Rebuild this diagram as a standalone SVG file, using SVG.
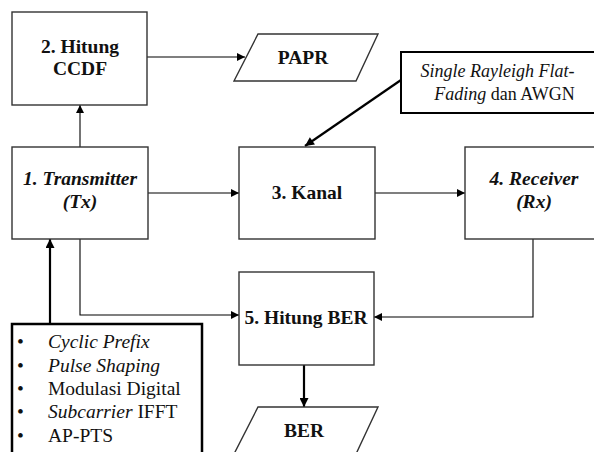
<svg xmlns="http://www.w3.org/2000/svg" width="594" height="452" viewBox="0 0 594 452">
<style>
.box{fill:#fff;stroke:#333;stroke-width:1.4}
.thickbox{fill:#fff;stroke:#000;stroke-width:2.5}
.b{font-family:"Liberation Serif","Times New Roman",serif;font-weight:bold;font-size:19.5px;fill:#111;text-anchor:middle}
.bi{font-family:"Liberation Serif","Times New Roman",serif;font-weight:bold;font-style:italic;font-size:19.5px;fill:#111;text-anchor:middle}
.r{font-family:"Liberation Serif","Times New Roman",serif;font-size:19.5px;fill:#111}
.s{font-family:"Liberation Serif","Times New Roman",serif;font-size:18px;fill:#111;text-anchor:middle}
.i{font-style:italic}
.c{fill:none;stroke:#000;stroke-width:1.1}
.ct{fill:none;stroke:#000;stroke-width:2.2}
</style>
<defs>
<marker id="ah" viewBox="0 0 10 10" refX="10" refY="5" markerWidth="9" markerHeight="8" markerUnits="userSpaceOnUse" orient="auto">
<path d="M0,0 L10,5 L0,10 Z" fill="#000"/>
</marker>
<marker id="aht" viewBox="0 0 10 10" refX="10" refY="5" markerWidth="10" markerHeight="9" markerUnits="userSpaceOnUse" orient="auto">
<path d="M0,0 L10,5 L0,10 Z" fill="#000"/>
</marker>
</defs>
<g id="connectors">
<path class="c" d="M80,147 L80,105" marker-end="url(#ah)"/>
<path class="c" d="M147,57 L245,57" marker-end="url(#ah)"/>
<path class="ct" d="M401,80 L305,146" marker-end="url(#aht)"/>
<path class="c" d="M148,193 L239,193" marker-end="url(#ah)"/>
<path class="c" d="M375,193 L465,193" marker-end="url(#ah)"/>
<path class="c" d="M533,239 L533,317 L374,317" marker-end="url(#ah)"/>
<path class="c" d="M80,239 L80,315 L239,315" marker-end="url(#ah)"/>
<path class="ct" d="M50,324 L50,239" marker-end="url(#aht)"/>
<path class="ct" d="M304,365 L304,407" marker-end="url(#aht)"/>
</g>
<g id="ccdf">
<rect class="box" x="12" y="12" width="135" height="93"/>
<text class="b" x="80" y="53">2. Hitung</text>
<text class="b" x="80" y="75">CCDF</text>
</g>
<g id="papr">
<path class="box" d="M258,34 L378,34 L356,81 L234,81 Z"/>
<text class="b" x="303" y="64">PAPR</text>
</g>
<g id="channel-model">
<rect class="box" style="stroke:#000;stroke-width:2" x="401" y="52" width="200" height="61"/>
<text class="s" x="497.5" y="77"><tspan class="i">Single Rayleigh Flat-</tspan></text>
<text class="s" x="504.5" y="100"><tspan class="i">Fading</tspan> dan AWGN</text>
</g>
<g id="transmitter">
<rect class="box" x="12" y="147" width="136" height="92"/>
<text class="bi" x="80" y="185">1. Transmitter</text>
<text class="bi" x="80" y="208">(Tx)</text>
</g>
<g id="kanal">
<rect class="box" x="239" y="147" width="136" height="92"/>
<text class="b" x="307" y="199">3. Kanal</text>
</g>
<g id="receiver">
<rect class="box" x="465" y="147" width="138" height="92"/>
<text class="bi" x="534" y="185">4. Receiver</text>
<text class="bi" x="534" y="208">(Rx)</text>
</g>
<g id="hitung-ber">
<rect class="box" x="239" y="272" width="135" height="93"/>
<text class="b" x="306" y="324">5. Hitung BER</text>
</g>
<g id="ber">
<path class="box" d="M258,407 L378,407 L356,454 L234,454 Z"/>
<text class="b" x="304" y="437">BER</text>
</g>
<g id="parameters">
<rect class="thickbox" x="12" y="324" width="190" height="140"/>
<text class="r" x="17" y="348">•</text>
<text class="r" x="48" y="348"><tspan class="i">Cyclic Prefix</tspan></text>
<text class="r" x="17" y="372">•</text>
<text class="r" x="48" y="372"><tspan class="i">Pulse Shaping</tspan></text>
<text class="r" x="17" y="395">•</text>
<text class="r" x="48" y="395">Modulasi Digital</text>
<text class="r" x="17" y="418">•</text>
<text class="r" x="48" y="418"><tspan class="i">Subcarrier</tspan> IFFT</text>
<text class="r" x="17" y="442">•</text>
<text class="r" x="48" y="442">AP-PTS</text>
</g>
</svg>
